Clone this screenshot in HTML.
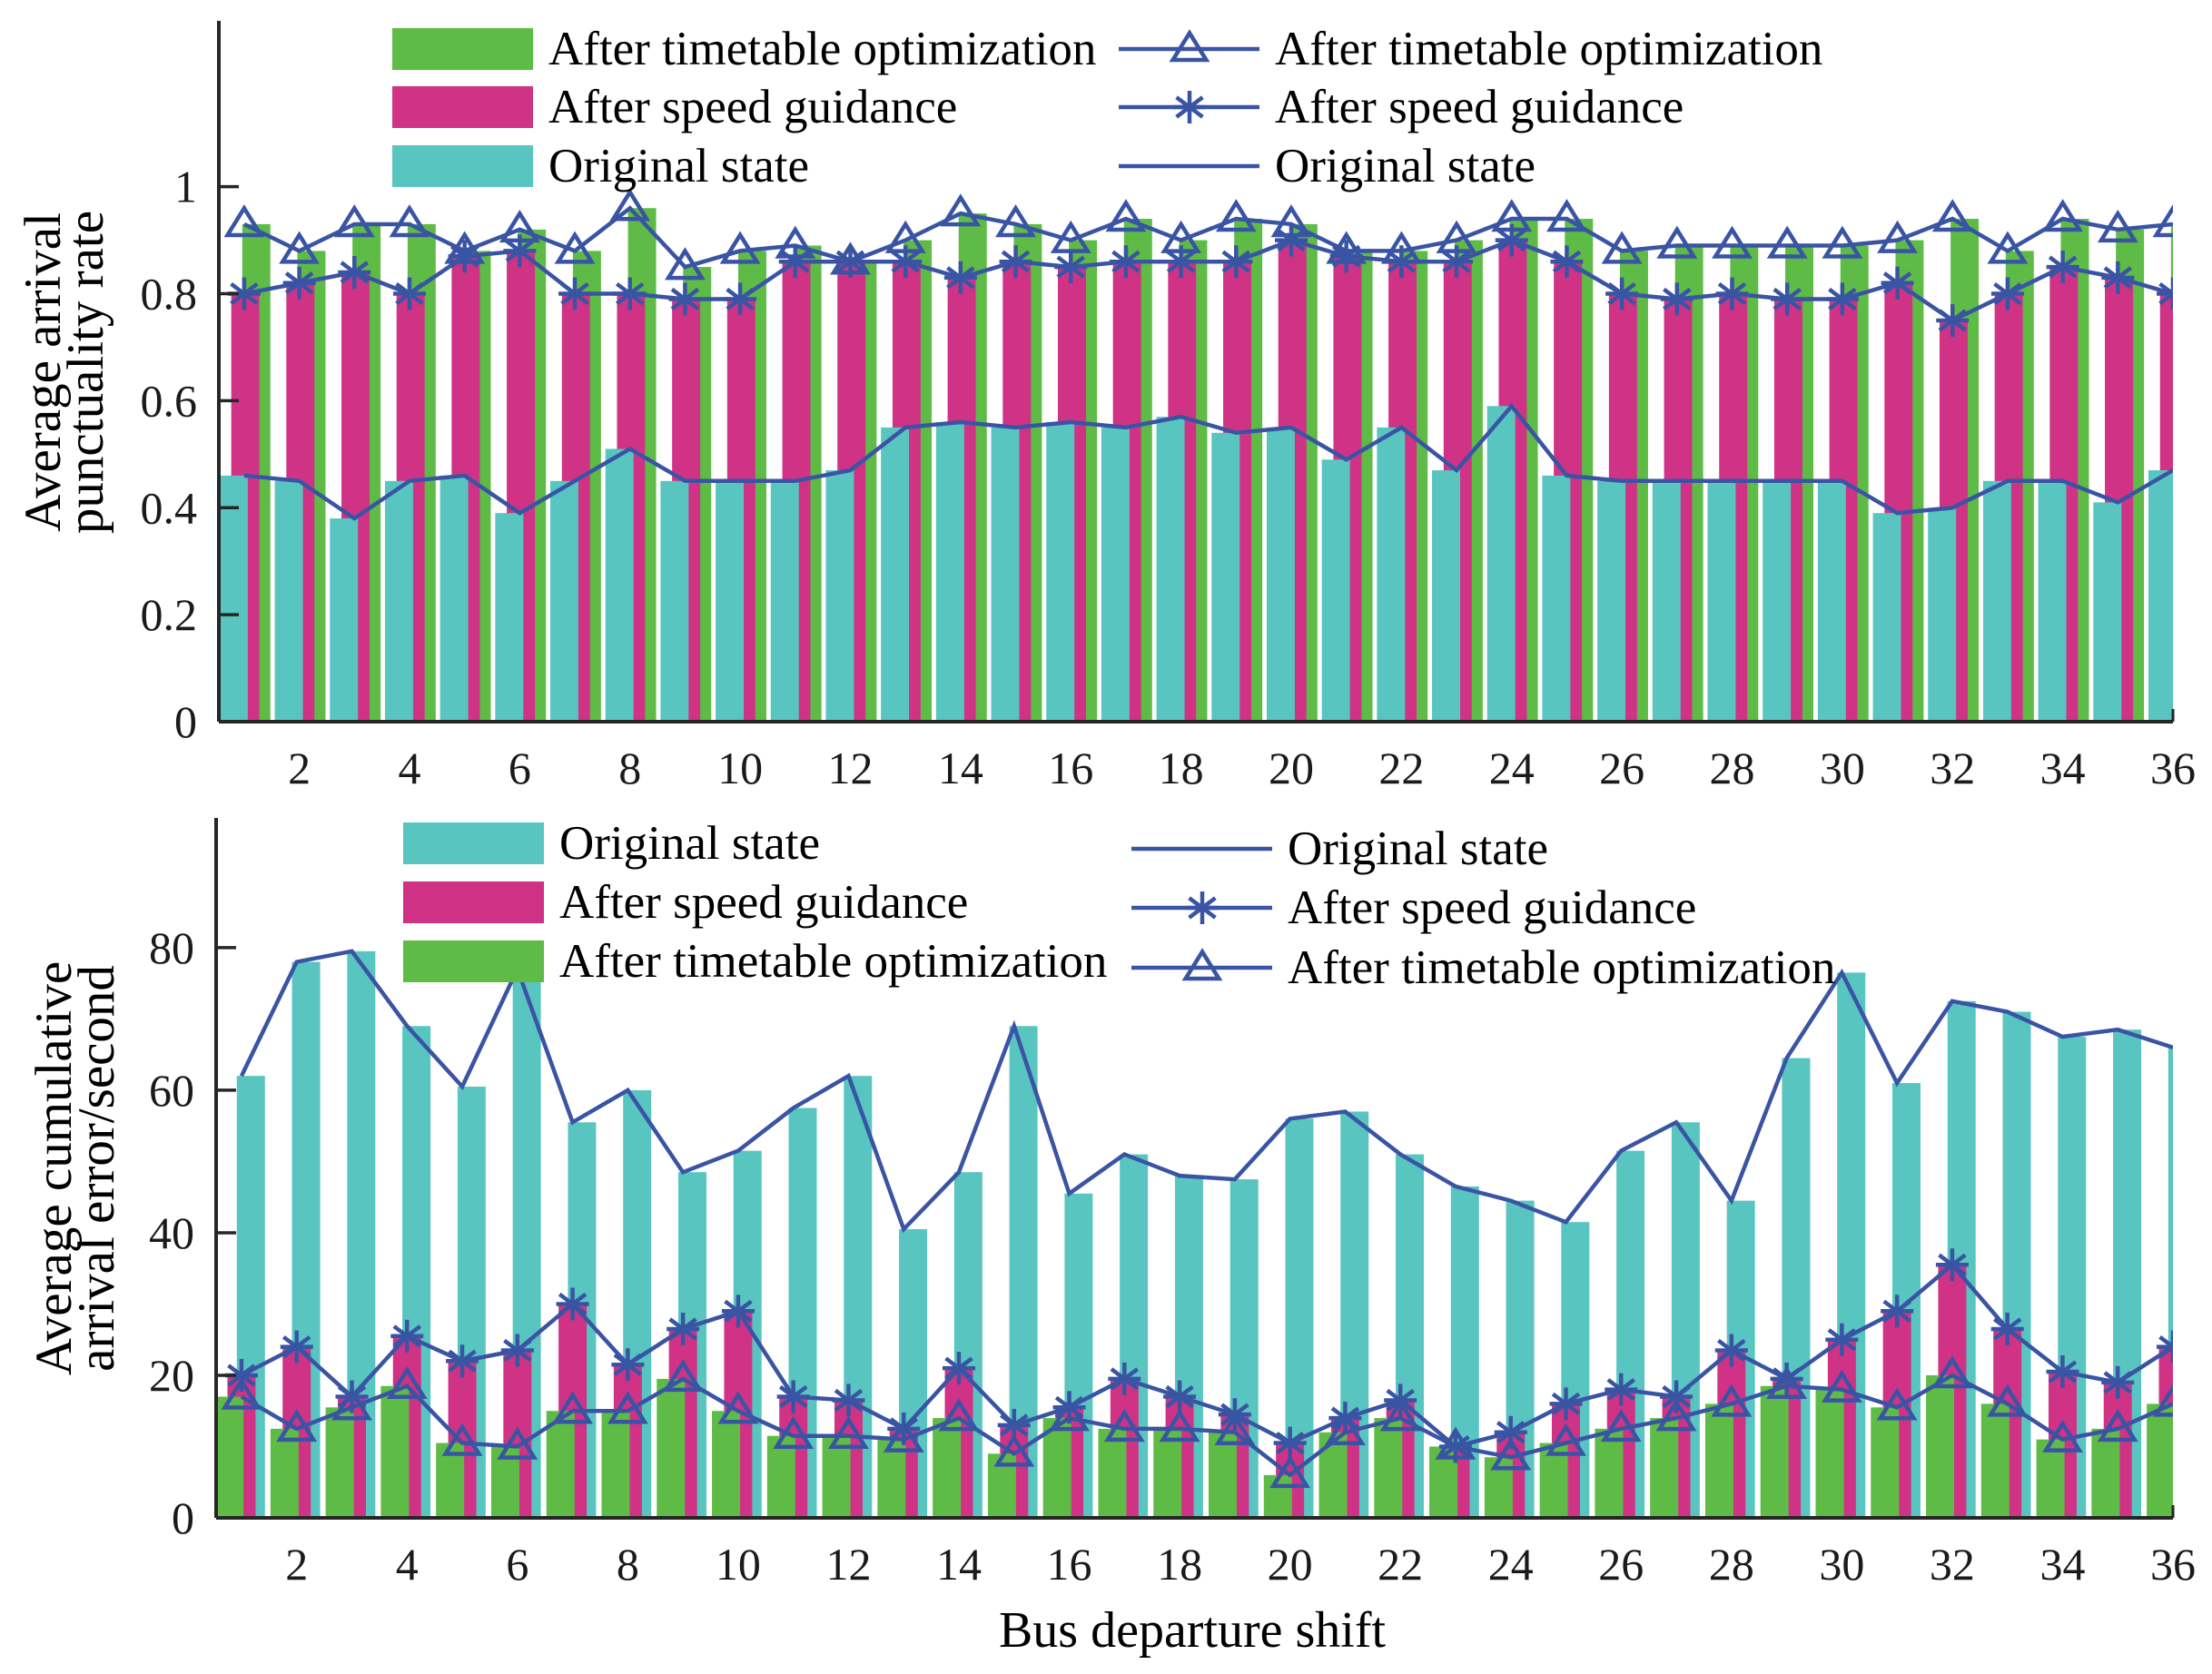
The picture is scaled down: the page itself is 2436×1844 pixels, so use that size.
<!DOCTYPE html>
<html><head><meta charset="utf-8"><style>
html,body{margin:0;padding:0;background:#fff;}
svg{display:block;font-family:"Liberation Serif","DejaVu Serif",serif;}
</style></head><body>
<svg id="chart" width="2436" height="1844" viewBox="0 0 2436 1844" xmlns="http://www.w3.org/2000/svg"></svg>
<script>
const shifts = [1,2,3,4,5,6,7,8,9,10,11,12,13,14,15,16,17,18,19,20,21,22,23,24,25,26,27,28,29,30,31,32,33,34,35,36];
const xTicks = [2,4,6,8,10,12,14,16,18,20,22,24,26,28,30,32,34,36];
const topYTicks = [0,0.2,0.4,0.6,0.8,1];
const topYTickLabels = ["0","0.2","0.4","0.6","0.8","1"];
const botYTicks = [0,20,40,60,80];
const botYTickLabels = ["0","20","40","60","80"];
const punctTimetable = [0.93,0.88,0.93,0.93,0.88,0.92,0.88,0.96,0.85,0.88,0.89,0.86,0.90,0.95,0.93,0.90,0.94,0.90,0.94,0.93,0.88,0.88,0.90,0.94,0.94,0.88,0.89,0.89,0.89,0.89,0.90,0.94,0.88,0.94,0.92,0.93];
const punctSpeed = [0.80,0.82,0.84,0.80,0.87,0.88,0.80,0.80,0.79,0.79,0.86,0.86,0.86,0.83,0.86,0.85,0.86,0.86,0.86,0.90,0.87,0.86,0.86,0.90,0.86,0.80,0.79,0.80,0.79,0.79,0.82,0.75,0.80,0.85,0.83,0.80];
const punctOriginal = [0.46,0.45,0.38,0.45,0.46,0.39,0.45,0.51,0.45,0.45,0.45,0.47,0.55,0.56,0.55,0.56,0.55,0.57,0.54,0.55,0.49,0.55,0.47,0.59,0.46,0.45,0.45,0.45,0.45,0.45,0.39,0.40,0.45,0.45,0.41,0.47];
const errOriginal = [62,78,79.5,69,60.5,77,55.5,60,48.5,51.5,57.5,62,40.5,48.5,69,45.5,51,48,47.5,56,57,51,46.5,44.5,41.5,51.5,55.5,44.5,64.5,76.5,61,72.5,71,67.5,68.5,66];
const errSpeed = [20,24,17,25.5,22,23.5,30,21.5,26.5,29,17,16.5,12.5,21,13,15.5,19.5,17,14.5,10.5,14,16.5,10,12,16,18,17,23.5,19.5,25,29,35.5,26.5,20.5,19,24];
const errTimetable = [17,12.5,15.5,18.5,10.5,10,15,15,19.5,15,11.5,11.5,11,14,9,14,12.5,12.5,12,6,12,14,10,8.5,10.5,12.5,14,16,18.5,18,15.5,20,16,11,12.5,16];

const NS="http://www.w3.org/2000/svg";
const svg=document.getElementById('chart');
const GREEN="#5dbb46",PINK="#d03386",CYAN="#58c5c1",BLUE="#3a54a4",AX="#262626";
function el(tag,attrs,parent){const e=document.createElementNS(NS,tag);for(const k in attrs)e.setAttribute(k,attrs[k]);(parent||svg).appendChild(e);return e;}

function makeAxes(cfg){
  const xs=v=>cfg.left+(v-cfg.xmin)/(cfg.xmax-cfg.xmin)*(cfg.right-cfg.left);
  const ys=v=>cfg.bottom-(v-cfg.ymin)/(cfg.ymax-cfg.ymin)*(cfg.bottom-cfg.top);
  return {xs,ys};
}
function clipRect(id,cfg){
  const d=el('clipPath',{id:id});
  el('rect',{x:cfg.left,y:cfg.top-40,width:cfg.right-cfg.left,height:cfg.bottom-cfg.top+40},d);
}
function drawBars(g,vals,off,color,A,name){
  const bw=0.51;
  vals.forEach((v,i)=>{
    const x0=A.xs(shifts[i]+off-bw/2),x1=A.xs(shifts[i]+off+bw/2);
    const r=el('rect',{x:x0,y:A.ys(v),width:x1-x0,height:A.ys(0)-A.ys(v),fill:color},g);
    
    
  });
}
function drawLine(g,vals,A,name){
  const pts=vals.map((v,i)=>A.xs(shifts[i])+','+A.ys(v)).join(' ');
  const p=el('polyline',{points:pts,fill:'none',stroke:BLUE,'stroke-width':4.5,'stroke-linejoin':'miter'},g);
  
  
}
function triangle(g,cx,cy,name){
  const s=16;
  const t=el('polygon',{points:`${cx},${cy-s*1.1} ${cx-s*1.15},${cy+s*0.75} ${cx+s*1.15},${cy+s*0.75}`,fill:'none',stroke:BLUE,'stroke-width':4.5},g);
  
  
}
function star(g,cx,cy,name){
  const s=18;
  const sg=el('g',{stroke:BLUE,'stroke-width':4.5},g);
  
  
  el('line',{x1:cx-s,y1:cy,x2:cx+s,y2:cy},sg);
  el('line',{x1:cx,y1:cy-s,x2:cx,y2:cy+s},sg);
  el('line',{x1:cx-s*0.8,y1:cy-s*0.6,x2:cx+s*0.8,y2:cy+s*0.6},sg);
  el('line',{x1:cx-s*0.8,y1:cy+s*0.6,x2:cx+s*0.8,y2:cy-s*0.6},sg);
}
function drawMarkers(g,vals,A,fn,name){vals.forEach((v,i)=>fn(g,A.xs(shifts[i]),A.ys(v),name+'-marker-'+shifts[i]));}
function axesLines(cfg,A,yt,ytl,prefix){
  const g=el('g',{});
  
  
  el('line',{x1:cfg.left,y1:cfg.top,x2:cfg.left,y2:cfg.bottom,stroke:AX,'stroke-width':4},g);
  el('line',{x1:cfg.left,y1:cfg.bottom,x2:cfg.right,y2:cfg.bottom,stroke:AX,'stroke-width':4},g);
  el('line',{x1:cfg.right,y1:cfg.bottom,x2:cfg.right,y2:cfg.bottom-14,stroke:AX,'stroke-width':3},g);
  yt.forEach((v,i)=>{
    el('line',{x1:cfg.left,y1:A.ys(v),x2:cfg.left+22,y2:A.ys(v),stroke:AX,'stroke-width':3.5},g);
    const t=el('text',{x:cfg.left-24,y:A.ys(v)+17,'font-size':50,'text-anchor':'end',fill:'#1a1a1a'},g);
    t.textContent=ytl[i];
    
    
  });
  xTicks.forEach(v=>{
    const t=el('text',{x:A.xs(v),y:cfg.bottom+68,'font-size':50,'text-anchor':'middle',fill:'#1a1a1a'},g);
    t.textContent=String(v);
    
    
  });
}
function legendBox(x,y,color,label,name){
  const g=el('g',{});
  
  
  el('rect',{x:x,y:y-23,width:155,height:46,fill:color},g);
  const t=el('text',{x:x+172,y:y+17,'font-size':53,fill:'#000'},g);
  t.textContent=label;
}
function legendLine(x,y,marker,label,name){
  const g=el('g',{});
  
  
  el('line',{x1:x,y1:y,x2:x+155,y2:y,stroke:BLUE,'stroke-width':4.5},g);
  if(marker==='tri')triangle(g,x+78,y,'legend-triangle');
  if(marker==='star')star(g,x+78,y,'legend-star');
  const t=el('text',{x:x+172,y:y+17,'font-size':53,fill:'#000'},g);
  t.textContent=label;
}

// ---------- TOP ----------
const cfgT={left:241,right:2393,top:23,bottom:795,xmin:0.54,xmax:36,ymin:0,ymax:1.31};
const AT=makeAxes(cfgT);
clipRect('clipT',cfgT);
const gT=el('g',{'clip-path':'url(#clipT)'});


drawBars(gT,punctTimetable,0.22,GREEN,AT,'top-bar-timetable');
drawBars(gT,punctSpeed,0.02,PINK,AT,'top-bar-speed');
drawBars(gT,punctOriginal,-0.19,CYAN,AT,'top-bar-original');
drawLine(gT,punctOriginal,AT,'top-line-original');
drawLine(gT,punctSpeed,AT,'top-line-speed');
drawMarkers(gT,punctSpeed,AT,star,'top-speed');
drawLine(gT,punctTimetable,AT,'top-line-timetable');
drawMarkers(gT,punctTimetable,AT,triangle,'top-timetable');
axesLines(cfgT,AT,topYTicks,topYTickLabels,'top');
legendBox(432,54,GREEN,'After timetable optimization','top-legend-bar-timetable');
legendBox(432,118,PINK,'After speed guidance','top-legend-bar-speed');
legendBox(432,183,CYAN,'Original state','top-legend-bar-original');
legendLine(1232,54,'tri','After timetable optimization','top-legend-line-timetable');
legendLine(1232,118,'star','After speed guidance','top-legend-line-speed');
legendLine(1232,183,'none','Original state','top-legend-line-original');
let yl=el('text',{x:0,y:0,'font-size':57,'text-anchor':'middle',transform:'translate(66,410) rotate(-90)'});
yl.textContent='Average arrival';


yl=el('text',{x:0,y:0,'font-size':57,'text-anchor':'middle',transform:'translate(113,410) rotate(-90)'});
yl.textContent='punctuality rate';



// ---------- BOTTOM ----------
const cfgB={left:238,right:2393,top:901,bottom:1672,xmin:0.54,xmax:36,ymin:0,ymax:98.2};
const AB=makeAxes(cfgB);
clipRect('clipB',cfgB);
const gB=el('g',{'clip-path':'url(#clipB)'});


drawBars(gB,errOriginal,0.17,CYAN,AB,'bottom-bar-original');
drawBars(gB,errSpeed,0.0,PINK,AB,'bottom-bar-speed');
drawBars(gB,errTimetable,-0.22,GREEN,AB,'bottom-bar-timetable');
drawLine(gB,errOriginal,AB,'bottom-line-original');
drawLine(gB,errSpeed,AB,'bottom-line-speed');
drawMarkers(gB,errSpeed,AB,star,'bottom-speed');
drawLine(gB,errTimetable,AB,'bottom-line-timetable');
drawMarkers(gB,errTimetable,AB,triangle,'bottom-timetable');
axesLines(cfgB,AB,botYTicks,botYTickLabels,'bottom');
legendBox(444,929,CYAN,'Original state','bottom-legend-bar-original');
legendBox(444,994,PINK,'After speed guidance','bottom-legend-bar-speed');
legendBox(444,1059,GREEN,'After timetable optimization','bottom-legend-bar-timetable');
legendLine(1246,935,'none','Original state','bottom-legend-line-original');
legendLine(1246,1000,'star','After speed guidance','bottom-legend-line-speed');
legendLine(1246,1066,'tri','After timetable optimization','bottom-legend-line-timetable');
yl=el('text',{x:0,y:0,'font-size':57,'text-anchor':'middle',transform:'translate(78,1287) rotate(-90)'});
yl.textContent='Average cumulative';


yl=el('text',{x:0,y:0,'font-size':57,'text-anchor':'middle',transform:'translate(125,1287) rotate(-90)'});
yl.textContent='arrival error/second';


const xl=el('text',{x:1313,y:1814,'font-size':56,'text-anchor':'middle'});
xl.textContent='Bus departure shift';


</script>
</body></html>
